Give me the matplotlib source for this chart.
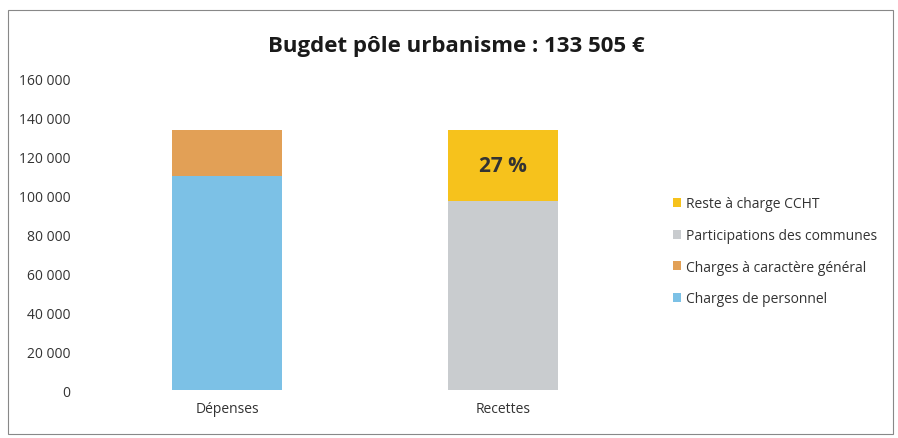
import matplotlib.pyplot as plt
from matplotlib.patches import Rectangle

plt.rcParams['font.family'] = ['Open Sans', 'DejaVu Sans']

categories = ["Dépenses", "Recettes"]
# series per category (bottom to top)
personnel = [110000, 0]
caractere_general = [23505, 0]
participations = [0, 97460]
reste_charge = [0, 36045]
pct_label = "27 %"

c_blue = "#7cc1e6"
c_orange = "#e2a056"
c_grey = "#c9cccf"
c_yellow = "#f6c21c"

fig = plt.figure(figsize=(8.98, 4.39), dpi=100)
ax = fig.add_axes([0.100, 0.109, 0.613, 0.709])

x = range(len(categories))
w = 0.4
b1 = ax.bar(x, personnel, w, color=c_blue, label="Charges de personnel")
b2 = ax.bar(x, caractere_general, w, bottom=personnel, color=c_orange,
            label="Charges à caractère général")
b3 = ax.bar(x, participations, w, color=c_grey, label="Participations des communes")
b4 = ax.bar(x, reste_charge, w, bottom=participations, color=c_yellow,
            label="Reste à charge CCHT")

# percentage label in the middle of the yellow segment
ax.text(1, participations[1] + reste_charge[1] / 2, pct_label, ha="center",
        va="center", fontsize=15, fontweight="bold", color="#333333")

ax.set_xlim(-0.5, 1.5)
ax.set_ylim(0, 160000)
ax.set_yticks(range(0, 160001, 20000))
ax.set_yticklabels([f"{v:,}".replace(",", " ") for v in range(0, 160001, 20000)])
ax.set_xticks(list(x))
ax.set_xticklabels(categories)
for s in ax.spines.values():
    s.set_visible(False)
ax.tick_params(length=0, labelsize=10, colors="#333333", pad=8)
ax.tick_params(axis="y", pad=14)

handles = [b4, b3, b2, b1]
leg = fig.legend(handles, [h.get_label() for h in handles], loc="center left",
                 bbox_to_anchor=(0.735, 0.425), frameon=False, fontsize=10,
                 handlelength=0.6, handleheight=0.6, handletextpad=0.4,
                 labelspacing=1.2, labelcolor="#333333")

fig.suptitle("Bugdet pôle urbanisme : 133 505 €", x=0.508, y=0.918,
             fontsize=16, fontweight="bold", color="#1a1a1a")

# thin frame around the chart area
fig.patches.append(Rectangle((0.009, 0.01), 0.985, 0.965, transform=fig.transFigure,
                             fill=False, edgecolor="#888888", linewidth=0.8))

fig.savefig("out.png", dpi=100, facecolor="white")
